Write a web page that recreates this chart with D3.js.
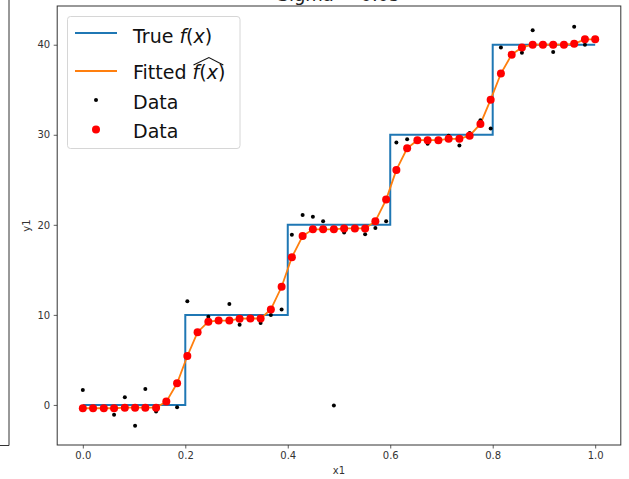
<!DOCTYPE html>
<html>
<head>
<meta charset="utf-8">
<script src="https://cdn.jsdelivr.net/npm/d3@7"></script>
<style>
  body { margin: 0; background: #fff; }
  svg { display: block; font-family: "DejaVu Sans", sans-serif; }
</style>
</head>
<body>
<script>
// sample positions (50 points on [0, 1])
var xs = [0, 0.020, 0.041, 0.061, 0.082, 0.102, 0.122, 0.143, 0.163, 0.184,
          0.204, 0.224, 0.245, 0.265, 0.286, 0.306, 0.327, 0.347, 0.367, 0.388,
          0.408, 0.429, 0.449, 0.469, 0.490, 0.510, 0.531, 0.551, 0.571, 0.592,
          0.612, 0.633, 0.653, 0.673, 0.694, 0.714, 0.735, 0.755, 0.776, 0.796,
          0.816, 0.837, 0.857, 0.878, 0.898, 0.918, 0.939, 0.959, 0.980, 1.0];

// noisy observations
var yData = [1.67, -0.3, -0.5, -1.1, 0.85, -2.3, 1.78, -0.74, 0.3, -0.26,
             11.5, 8.0, 9.8, 9.4, 11.2, 8.9, 9.6, 9.1, 10.0, 10.6,
             18.9, 21.1, 20.9, 20.4, -0.07, 19.15, 19.6, 18.95, 19.65, 20.4,
             29.15, 29.5, 29.4, 29.0, 29.4, 29.9, 28.8, 30.2, 31.6, 30.7,
             39.7, 38.9, 39.1, 41.6, 40.0, 39.2, 40.0, 42.0, 40.0, 40.6];

// fitted values
var yFit = [-0.37, -0.37, -0.37, -0.37, -0.3, -0.3, -0.3, -0.3, 0.37, 2.4,
            5.43, 8.08, 9.24, 9.37, 9.37, 9.58, 9.6, 9.6, 10.6, 13.12,
            16.4, 18.75, 19.5, 19.5, 19.5, 19.6, 19.6, 19.6, 20.4, 22.8,
            26.1, 28.5, 29.4, 29.4, 29.4, 29.55, 29.55, 29.9, 31.2, 33.9,
            36.8, 38.9, 39.7, 40.0, 40.0, 40.0, 40.0, 40.1, 40.6, 40.6];

// true step function
var trueX = [0, 0.2, 0.2, 0.4, 0.4, 0.6, 0.6, 0.8, 0.8, 1.0];
var trueY = [0, 0, 10, 10, 20, 20, 30, 30, 40, 40];

var xTicks = [0, 0.2, 0.4, 0.6, 0.8, 1.0];
var yTicks = [0, 10, 20, 30, 40];

var width = 629,
    height = 479;

var plotLeft = 57.2, plotRight = 620.8, plotTop = 6, plotBottom = 445;

var svg = d3.select('body')
  .append('svg')
  .attr('width', width)
  .attr('height', height);

// edge of the neighbouring subplot
svg.append('path')
  .attr('d', 'M9,0V445.5H0')
  .attr('fill', 'none')
  .attr('stroke', '#333')
  .attr('stroke-width', 1);

var x = d3.scaleLinear().domain([-0.05, 1.05]).range([plotLeft, plotRight]);
var y = d3.scaleLinear().domain([-4.45, 44.3]).range([plotBottom, plotTop]);

// title, mostly cut off at the top of the picture
svg.append('text')
  .attr('x', (plotLeft + plotRight) / 2)
  .attr('y', 1)
  .attr('text-anchor', 'middle')
  .attr('font-size', 18)
  .attr('fill', '#222')
  .text('Sigma = 0.05');

var xAxis = svg.append('g')
  .attr('transform', 'translate(0,' + plotBottom + ')')
  .call(d3.axisBottom(x).tickValues(xTicks).tickFormat(d3.format('.1f'))
    .tickSizeInner(3.5).tickSizeOuter(0).tickPadding(3.5));

var yAxis = svg.append('g')
  .attr('transform', 'translate(' + plotLeft + ',0)')
  .call(d3.axisLeft(y).tickValues(yTicks).tickFormat(d3.format('d'))
    .tickSizeInner(3.5).tickSizeOuter(0).tickPadding(3.5));

[xAxis, yAxis].forEach(function(g) {
  g.select('.domain').remove();
  g.selectAll('line').attr('stroke', '#333').attr('stroke-width', 0.8);
  g.selectAll('text')
    .attr('font-size', 10)
    .attr('fill', '#333')
    .attr('font-family', '"DejaVu Sans", sans-serif');
});

svg.append('text')
  .attr('x', (plotLeft + plotRight) / 2)
  .attr('y', 474)
  .attr('text-anchor', 'middle')
  .attr('font-size', 10)
  .attr('fill', '#333')
  .text('x1');

svg.append('text')
  .attr('transform', 'translate(30,' + (plotTop + plotBottom) / 2 + ') rotate(-90)')
  .attr('text-anchor', 'middle')
  .attr('font-size', 10)
  .attr('fill', '#333')
  .text('y1');

var plot = svg.append('g');

var trueLine = d3.line()
  .x(function(d, i) { return x(trueX[i]); })
  .y(function(d) { return y(d); });

plot.append('path')
  .attr('d', trueLine(trueY))
  .attr('fill', 'none')
  .attr('stroke', '#1f77b4')
  .attr('stroke-width', 2);

var fitLine = d3.line()
  .x(function(d, i) { return x(xs[i]); })
  .y(function(d) { return y(d); });

plot.append('path')
  .attr('d', fitLine(yFit))
  .attr('fill', 'none')
  .attr('stroke', '#ff7f0e')
  .attr('stroke-width', 1.8);

plot.selectAll('circle.obs')
  .data(yData)
  .enter()
  .append('circle')
  .attr('class', 'obs')
  .attr('cx', function(d, i) { return x(xs[i]); })
  .attr('cy', function(d) { return y(d); })
  .attr('r', 2)
  .attr('fill', '#000');

plot.selectAll('circle.fit')
  .data(yFit)
  .enter()
  .append('circle')
  .attr('class', 'fit')
  .attr('cx', function(d, i) { return x(xs[i]); })
  .attr('cy', function(d) { return y(d); })
  .attr('r', 4)
  .attr('fill', '#ff0000');

// frame
svg.append('rect')
  .attr('x', plotLeft)
  .attr('y', plotTop)
  .attr('width', plotRight - plotLeft)
  .attr('height', plotBottom - plotTop)
  .attr('fill', 'none')
  .attr('stroke', '#333')
  .attr('stroke-width', 1);

// legend
var legend = svg.append('g');

legend.append('rect')
  .attr('x', 67.5)
  .attr('y', 16.5)
  .attr('width', 172.5)
  .attr('height', 132)
  .attr('rx', 3)
  .attr('fill', '#fff')
  .attr('fill-opacity', 0.8)
  .attr('stroke', '#d6d6d6')
  .attr('stroke-width', 1);

legend.append('line')
  .attr('x1', 75).attr('x2', 117).attr('y1', 33).attr('y2', 33)
  .attr('stroke', '#1f77b4').attr('stroke-width', 2);

legend.append('line')
  .attr('x1', 75).attr('x2', 117).attr('y1', 71).attr('y2', 71)
  .attr('stroke', '#ff7f0e').attr('stroke-width', 2);

legend.append('circle')
  .attr('cx', 96).attr('cy', 100).attr('r', 2).attr('fill', '#000');

legend.append('circle')
  .attr('cx', 96).attr('cy', 129.5).attr('r', 4).attr('fill', '#ff0000');

var fs = 19;

var t1 = legend.append('text')
  .attr('x', 133).attr('y', 42.5)
  .attr('font-size', fs).attr('fill', '#111');
t1.append('tspan').text('True ');
t1.append('tspan').attr('font-style', 'italic').text('f');
t1.append('tspan').text('(');
t1.append('tspan').attr('font-style', 'italic').text('x');
t1.append('tspan').text(')');

var t2 = legend.append('text')
  .attr('x', 133).attr('y', 78.5)
  .attr('font-size', fs).attr('fill', '#111');
t2.append('tspan').text('Fitted ');
t2.append('tspan').attr('font-style', 'italic').text('f');
t2.append('tspan').text('(');
t2.append('tspan').attr('font-style', 'italic').text('x');
t2.append('tspan').text(')');

// wide hat over f(x)
var node = t2.node();
var hx0 = node.getStartPositionOfChar(7).x;
var hx1 = hx0 + node.getSubStringLength(7, 4);
legend.append('path')
  .attr('d', 'M' + (hx0 + 1) + ',65L' + ((hx0 + hx1) / 2) + ',57.5L' + (hx1 - 2) + ',65')
  .attr('fill', 'none')
  .attr('stroke', '#111')
  .attr('stroke-width', 1.1);

legend.append('text')
  .attr('x', 133).attr('y', 108.5)
  .attr('font-size', fs).attr('fill', '#111')
  .text('Data');

legend.append('text')
  .attr('x', 133).attr('y', 137.5)
  .attr('font-size', fs).attr('fill', '#111')
  .text('Data');
</script>
</body>
</html>
